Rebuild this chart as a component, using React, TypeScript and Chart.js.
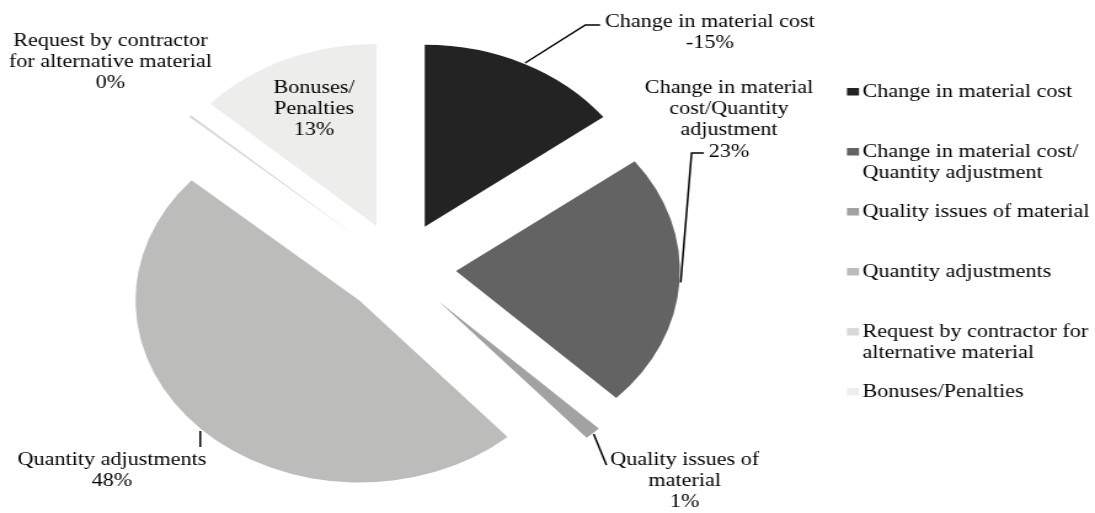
import React, { useEffect, useRef } from "react";
import { Chart, registerables } from "chart.js";

Chart.register(...registerables);

// ---------- data ----------
const categories = [
  "Change in material cost",
  "Change in material cost/Quantity adjustment",
  "Quality issues of material",
  "Quantity adjustments",
  "Request by contractor for alternative material",
  "Bonuses/Penalties",
];
const values = [-14.7, 22.6, 1.2, 48.0, 0.2, 13.3];
const sliceColors = ["#232323", "#636363", "#a2a2a2", "#bcbdbb", "#d9d9d9", "#edeeec"];
const dataLabelLines = [
  ["Change in material cost"],
  ["Change in material", "cost/Quantity", "adjustment"],
  ["Quality issues of", "material"],
  ["Quantity adjustments"],
  ["Request by contractor", "for alternative material"],
  ["Bonuses/", "Penalties"],
];
const legendLines = [
  ["Change in material cost"],
  ["Change in material cost/", "Quantity adjustment"],
  ["Quality issues of material"],
  ["Quantity adjustments"],
  ["Request by contractor for", "alternative material"],
  ["Bonuses/Penalties"],
];

// ---------- layout (canvas px before horizontal stretch) ----------
const W = 890;
const H = 513;
const STRETCH = 1095 / W;
const FONT = '18px "Liberation Serif", "Times New Roman", serif';
const LINE_H = 21.3;
const EXPLODE = 46;
const PIE_CX = 324.7;
const PIE_CY = 268;
const PIE_R = 182;
const labelPlacement = [
  { x: 577, y: 22, leader: "firstLeft" },
  { x: 592.6, y: 88, leader: "lastLeft" },
  { x: 556.4, y: 460, leader: "diag" },
  { x: 91, y: 460, leader: "top" },
  { x: 89.8, y: 41, leader: "none" },
  { x: 255.2, y: 88, leader: "none" },
];
const LEGEND_BOX_X = 688.4;
const LEGEND_TEXT_X = 701;
const LEGEND_TOP = 92;
const LEGEND_STEP = 60;

const pctText = (v: number) => `${Math.round(v)}%`;

const explodePlugin = {
  id: "explode",
  afterDatasetsUpdate(chart: any) {
    const meta = chart.getDatasetMeta(0);
    meta.data.forEach((arc: any) => {
      const mid = (arc.startAngle + arc.endAngle) / 2;
      arc.x += Math.cos(mid) * EXPLODE;
      arc.y += Math.sin(mid) * EXPLODE;
    });
  },
};

const labelPlugin = {
  id: "sliceLabels",
  afterDatasetsDraw(chart: any) {
    const ctx = chart.ctx as CanvasRenderingContext2D;
    const meta = chart.getDatasetMeta(0);
    ctx.save();
    ctx.font = FONT;
    ctx.fillStyle = "#000";
    ctx.textAlign = "center";
    ctx.textBaseline = "middle";
    meta.data.forEach((arc: any, i: number) => {
      const place = labelPlacement[i];
      const lines = [...dataLabelLines[i], pctText(values[i])];
      lines.forEach((t, k) => ctx.fillText(t, place.x, place.y + k * LINE_H));
      if (place.leader === "none") return;
      const mid = (arc.startAngle + arc.endAngle) / 2;
      const sx = arc.x + Math.cos(mid) * (arc.outerRadius + 1);
      const sy = arc.y + Math.sin(mid) * (arc.outerRadius + 1);
      let pts: number[][] = [];
      if (place.leader === "firstLeft") {
        const w = ctx.measureText(lines[0]).width;
        const ex = place.x - w / 2 - 4;
        const ey = place.y + 3;
        pts = [[sx, sy], [ex - 12, ey], [ex, ey]];
      } else if (place.leader === "lastLeft") {
        const last = lines.length - 1;
        const w = ctx.measureText(lines[last]).width;
        const ex = place.x - w / 2 - 4;
        const ey = place.y + last * LINE_H + 1;
        pts = [[sx, sy], [ex - 10, ey], [ex, ey]];
      } else if (place.leader === "diag") {
        const w = ctx.measureText(lines[0]).width;
        pts = [[sx, sy], [place.x - w / 2 - 3, place.y + 5]];
      } else if (place.leader === "top") {
        pts = [[sx, sy + 1], [sx, place.y - 13]];
      }
      ctx.beginPath();
      pts.forEach((p, k) => (k === 0 ? ctx.moveTo(p[0], p[1]) : ctx.lineTo(p[0], p[1])));
      ctx.lineWidth = 1.5;
      ctx.strokeStyle = "#000";
      ctx.stroke();
    });
    ctx.restore();
  },
};

const legendPlugin = {
  id: "sideLegend",
  afterDraw(chart: any) {
    const ctx = chart.ctx as CanvasRenderingContext2D;
    ctx.save();
    ctx.font = FONT;
    ctx.textAlign = "left";
    ctx.textBaseline = "middle";
    categories.forEach((_, i) => {
      const y0 = LEGEND_TOP + i * LEGEND_STEP;
      ctx.fillStyle = sliceColors[i];
      ctx.fillRect(LEGEND_BOX_X, y0 - 4, 9.8, 7.5);
      ctx.fillStyle = "#000";
      legendLines[i].forEach((t, k) => ctx.fillText(t, LEGEND_TEXT_X, y0 + k * LINE_H));
    });
    ctx.restore();
  },
};

export default function App() {
  const ref = useRef<HTMLCanvasElement | null>(null);
  useEffect(() => {
    if (!ref.current) return;
    const chart = new Chart(ref.current, {
      type: "pie",
      data: {
        labels: categories,
        datasets: [
          {
            data: values,
            backgroundColor: sliceColors,
            borderWidth: 0,
            hoverOffset: 0,
            radius: PIE_R,
          } as any,
        ],
      },
      options: {
        responsive: false,
        animation: false,
        events: [],
        layout: {
          padding: { left: 0, right: W - 2 * PIE_CX, top: 2 * PIE_CY - H, bottom: 0 },
        },
        plugins: { legend: { display: false }, tooltip: { enabled: false } },
      } as any,
      plugins: [explodePlugin, labelPlugin, legendPlugin],
    });
    return () => chart.destroy();
  }, []);
  return (
    <div
      style={{
        position: "fixed",
        left: 0,
        top: 0,
        width: 1095,
        height: 513,
        overflow: "hidden",
        background: "#fff",
      }}
    >
      <canvas
        ref={ref}
        width={W}
        height={H}
        style={{
          position: "absolute",
          left: 0,
          top: 0,
          width: W + "px",
          height: H + "px",
          transform: `scaleX(${STRETCH})`,
          transformOrigin: "0 0",
        }}
      />
    </div>
  );
}
